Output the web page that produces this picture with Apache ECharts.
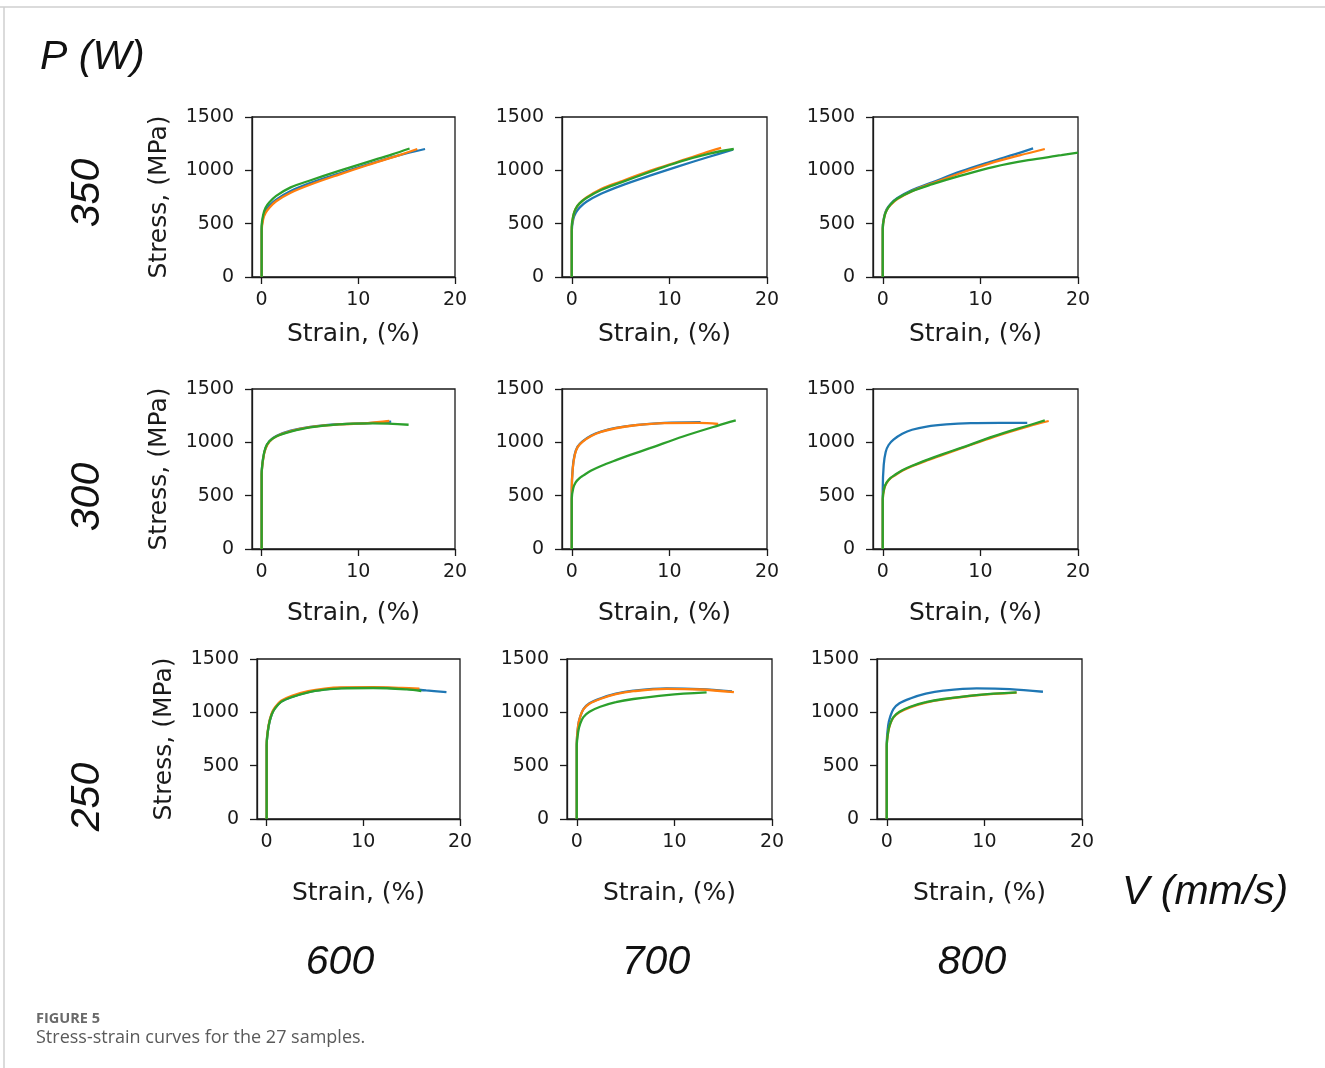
<!DOCTYPE html>
<html>
	<head>
		<meta charset="utf-8">
		<title>Stress-strain curves</title>
		<script src="https://cdn.jsdelivr.net/npm/echarts@6.0.0/dist/echarts.min.js"></script>
		<style>
			body { margin: 0; background: #fff; }
		</style>
	</head>
	<body>
		<div id="box" style="width: 1325px;height: 1068px;"></div>
		<script>
			// 每个面板三条曲线: 蓝, 橙, 绿  [应变 %, 应力 MPa]
			var p350_v600 = [
				[[0,0],[0,450],[0.15,560],[0.4,620],[0.8,670],[1.5,725],[3,805],[5,880],[8,970],[11,1055],[14,1135],[16.9,1200]],
				[[0,0],[0,430],[0.15,540],[0.4,600],[0.8,650],[1.5,710],[3,790],[5,865],[8,960],[11,1050],[14,1135],[16.1,1200]],
				[[0,0],[0,480],[0.15,580],[0.4,650],[0.8,700],[1.5,760],[3,840],[5,905],[8,995],[11,1080],[13.5,1150],[15.3,1205]]
			]
			var p350_v700 = [
				[[0,0],[0,430],[0.15,540],[0.4,600],[0.8,650],[1.5,705],[3,780],[5,855],[8,950],[11,1040],[14,1125],[16.5,1195]],
				[[0,0],[0,460],[0.15,570],[0.4,640],[0.8,690],[1.5,745],[3,825],[5,895],[8,995],[11,1085],[13.5,1160],[15.3,1210]],
				[[0,0],[0,470],[0.15,575],[0.4,640],[0.8,690],[1.5,740],[3,815],[5,885],[8,985],[11,1080],[14,1155],[16.6,1200]]
			]
			var p350_v800 = [
				[[0,0],[0,460],[0.15,570],[0.4,635],[0.8,685],[1.5,740],[3,815],[5,885],[8,990],[11,1080],[13.5,1150],[15.4,1205]],
				[[0,0],[0,450],[0.15,560],[0.4,625],[0.8,675],[1.5,730],[3,805],[5,875],[8,975],[11,1065],[14,1140],[16.6,1200]],
				[[0,0],[0,450],[0.15,560],[0.4,625],[0.8,680],[1.5,735],[3,805],[5,868],[8,950],[11.4,1033],[14.9,1095],[18.3,1142],[20,1167]]
			]
			var p300_v600 = [
				[[0,0],[0,700],[0.15,850],[0.4,945],[0.8,1010],[1.5,1060],[3,1110],[5,1145],[8,1170],[11,1180],[13.4,1195]],
				[[0,0],[0,690],[0.15,840],[0.4,940],[0.8,1005],[1.5,1055],[3,1105],[5,1142],[8,1168],[11,1180],[13.2,1200]],
				[[0,0],[0,700],[0.15,850],[0.4,950],[0.8,1010],[1.5,1055],[3,1100],[5,1140],[8,1168],[11.5,1177],[15.2,1165]]
			]
			var p300_v700 = [
				[[0,0],[0,560],[0.1,760],[0.3,885],[0.6,960],[1.1,1010],[2,1065],[3,1100],[4.5,1135],[6.5,1162],[9.5,1182],[13.2,1190]],
				[[0,0],[0,550],[0.1,750],[0.3,880],[0.6,955],[1.1,1005],[2,1060],[3,1098],[4.5,1132],[6.5,1160],[9.5,1180],[13,1182],[15,1172]],
				[[0,0],[0,470],[0.15,570],[0.4,625],[0.8,665],[1.2,690],[2,735],[3,778],[4.6,835],[6,882],[8,945],[11.4,1055],[14.9,1155],[16.8,1205]]
			]
			var p300_v800 = [
				[[0,0],[0,560],[0.1,790],[0.3,910],[0.6,975],[1.1,1025],[2,1080],[3,1118],[4.5,1148],[6.5,1168],[9,1180],[12,1183],[14.8,1183]],
				[[0,0],[0,460],[0.15,565],[0.4,620],[0.8,663],[1.2,688],[2,733],[3,776],[4.6,832],[6,878],[8,942],[11.4,1052],[14.9,1150],[17,1200]],
				[[0,0],[0,470],[0.15,570],[0.4,625],[0.8,667],[1.2,692],[2,738],[3,780],[4.6,838],[6,885],[8,948],[11.4,1058],[14.9,1158],[16.6,1205]]
			]
			var p250_v600 = [
				[[0,0],[0,690],[0.2,870],[0.5,975],[0.85,1037],[1.5,1100],[2.6,1145],[4.3,1190],[6,1215],[7.7,1228],[11,1232],[14.5,1221],[16.5,1205],[18.6,1190]],
				[[0,0],[0,700],[0.2,880],[0.5,985],[0.85,1045],[1.5,1108],[2.6,1155],[4.3,1198],[6,1222],[7.7,1233],[11,1235],[14,1228],[15.8,1222]],
				[[0,0],[0,690],[0.2,870],[0.5,975],[0.85,1035],[1.5,1098],[2.6,1143],[4.3,1188],[6,1212],[7.7,1225],[11,1228],[14.5,1215],[16,1200]]
			]
			var p250_v700 = [
				[[0,0],[0,700],[0.15,880],[0.34,955],[0.68,1031],[1.3,1085],[2.4,1130],[4,1175],[5.8,1203],[9.2,1224],[12.6,1218],[15.9,1196]],
				[[0,0],[0,700],[0.15,880],[0.34,955],[0.68,1028],[1.3,1080],[2.4,1125],[4,1170],[5.8,1198],[9.2,1220],[12.6,1214],[16.1,1190]],
				[[0,0],[0,680],[0.15,820],[0.34,890],[0.68,955],[1.3,1005],[2.4,1052],[4,1095],[5.8,1125],[9.2,1162],[13.3,1187]]
			]
			var p250_v800 = [
				[[0,0],[0,700],[0.15,880],[0.34,955],[0.68,1031],[1.3,1085],[2.4,1130],[4,1175],[5.8,1203],[9.2,1224],[12.6,1218],[16,1193]],
				[[0,0],[0,680],[0.15,815],[0.34,885],[0.68,950],[1.3,1000],[2.4,1047],[4,1092],[5.8,1122],[9.2,1160],[13.3,1185]],
				[[0,0],[0,680],[0.15,820],[0.34,890],[0.68,955],[1.3,1005],[2.4,1052],[4,1095],[5.8,1125],[9.2,1162],[13.3,1187]]
			]

			var powers = ['350', '300', '250']
			var speeds = ['600', '700', '800']
			var xTicks = [0, 10, 20]
			var colors = ['#1f77b4', '#ff7f0e', '#2ca02c']
			var panels = [
				[p350_v600, p350_v700, p350_v800],
				[p300_v600, p300_v700, p300_v800],
				[p250_v600, p250_v700, p250_v800]
			]

			// 子图位置 (像素)
			var rowTop = [117, 389, 659]
			var colLeft = [[252, 562, 873], [252, 562, 873], [257, 567, 877]]
			var colWidth = [203, 205, 205]
			var xNameGap = [45, 52, 62]

			var ink = '#1a1a1a'
			var grids = [], xAxes = [], yAxes = [], series = []

			for (var r = 0; r < 3; r++) {
				for (var c = 0; c < 3; c++) {
					var idx = grids.length
					grids.push({
						left: colLeft[r][c], top: rowTop[r], width: colWidth[c], height: 160,
						show: true, borderColor: ink, borderWidth: 1.3, backgroundColor: 'transparent'
					})
					xAxes.push({
						gridIndex: idx, type: 'value', min: -1, max: 20,
						name: 'Strain, (%)', nameLocation: 'middle', nameGap: xNameGap[r],
						nameTextStyle: { fontFamily: 'DejaVu Sans', fontSize: 25, color: ink },
						axisLine: { onZero: false, lineStyle: { color: ink, width: 1.3 } },
						axisTick: { customValues: xTicks, length: 7, lineStyle: { color: ink, width: 1.3 } },
						axisLabel: { customValues: xTicks, margin: 14, fontFamily: 'DejaVu Sans', fontSize: 19, color: ink },
						splitLine: { show: false }
					})
					yAxes.push({
						gridIndex: idx, type: 'value', min: 0, max: 1500, interval: 500,
						name: c === 0 ? 'Stress, (MPa)' : '', nameLocation: 'middle', nameGap: 80,
						nameTextStyle: { fontFamily: 'DejaVu Sans', fontSize: 25, color: ink },
						axisLine: { show: true, onZero: false, lineStyle: { color: ink, width: 1.3 } },
						axisTick: { show: true, length: 7, lineStyle: { color: ink, width: 1.3 } },
						axisLabel: {
							margin: 18, fontFamily: 'DejaVu Sans', fontSize: 19, color: ink,
							formatter: function (v) { return String(v) }
						},
						splitLine: { show: false }
					})
					for (var k = 0; k < 3; k++) {
						series.push({
							type: 'line', xAxisIndex: idx, yAxisIndex: idx,
							data: panels[r][c][k], showSymbol: false, smooth: 0.35,
							lineStyle: { color: colors[k], width: 2.3 }, z: 2 + k
						})
					}
				}
			}

			var bigFont = { fontFamily: 'Liberation Sans', fontStyle: 'italic', fontSize: 41, fill: '#111' }
			var graphics = [
				{ type: 'line', shape: { x1: 0, y1: 7, x2: 1325, y2: 7 }, style: { stroke: '#cfcfcf', lineWidth: 1.5 } },
				{ type: 'line', shape: { x1: 4, y1: 7, x2: 4, y2: 1068 }, style: { stroke: '#cfcfcf', lineWidth: 1.5 } },
				{ type: 'text', x: 40, y: 58, style: Object.assign({ text: 'P (W)', textVerticalAlign: 'middle' }, bigFont) },
				{ type: 'text', x: 1122, y: 893, style: Object.assign({ text: 'V (mm/s)', textVerticalAlign: 'middle' }, bigFont) },
				{ type: 'text', x: 36, y: 1019, style: { text: 'FIGURE 5', textVerticalAlign: 'middle', fontFamily: 'Open Sans', fontWeight: 'bold', fontSize: 14.5, fill: '#6a6a6a' } },
				{ type: 'text', x: 36, y: 1038, style: { text: 'Stress-strain curves for the 27 samples.', textVerticalAlign: 'middle', fontFamily: 'Open Sans', fontSize: 18, fill: '#5a5a5a' } }
			]
			var powerY = [193, 497, 797]
			for (var i = 0; i < 3; i++) {
				graphics.push({ type: 'text', x: 88, y: powerY[i], rotation: Math.PI / 2,
					style: Object.assign({ text: powers[i], textAlign: 'center', textVerticalAlign: 'middle' }, bigFont) })
			}
			var speedX = [340, 656, 972]
			for (var j = 0; j < 3; j++) {
				graphics.push({ type: 'text', x: speedX[j], y: 963,
					style: Object.assign({ text: speeds[j], textAlign: 'center', textVerticalAlign: 'middle' }, bigFont) })
			}

			var mCharts = echarts.init(document.querySelector('#box'))
			mCharts.setOption({
				animation: false,
				backgroundColor: '#fff',
				grid: grids,
				xAxis: xAxes,
				yAxis: yAxes,
				series: series,
				graphic: graphics
			})
		</script>
	</body>
</html>
